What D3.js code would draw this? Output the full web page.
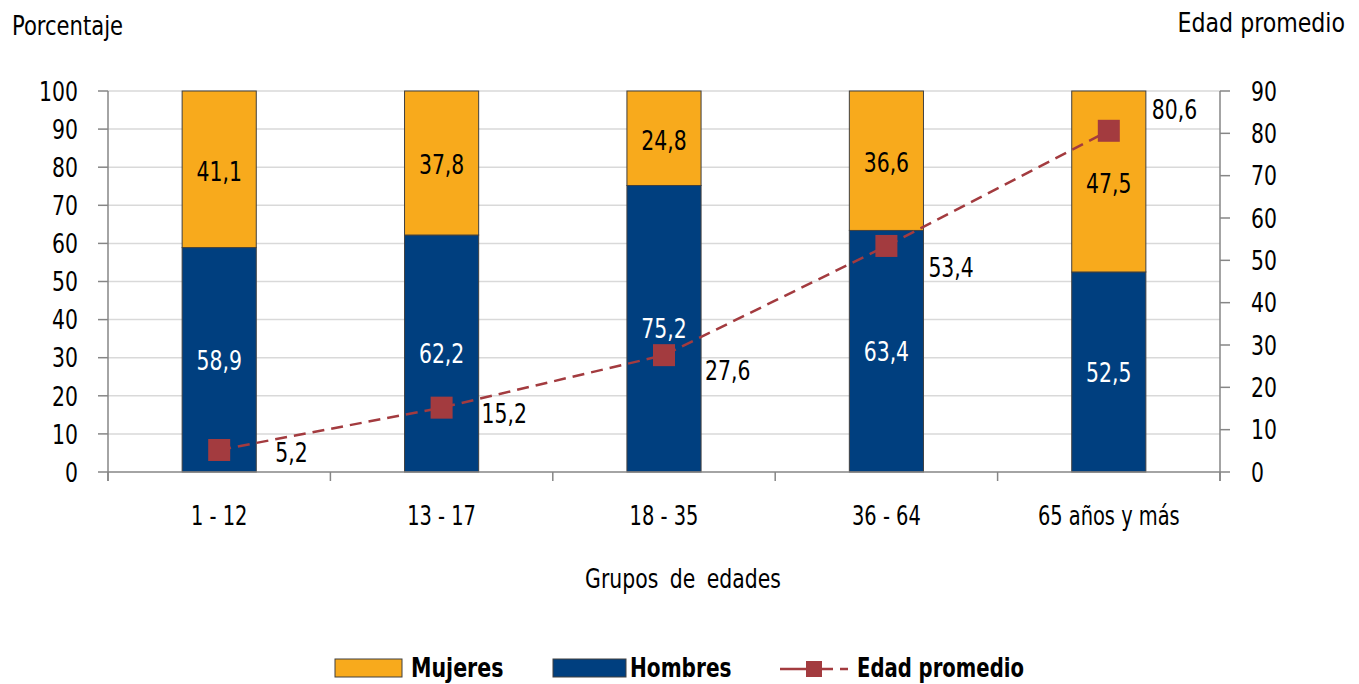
<!DOCTYPE html>
<html><head><meta charset="utf-8">
<script src="https://cdn.jsdelivr.net/npm/d3@7"></script>
<style>
body{margin:0;background:#fff;}
svg text{font-family:"DejaVu Sans Condensed","DejaVu Sans",sans-serif;font-stretch:condensed;fill:#000;}
</style></head>
<body><svg id="c" width="1359" height="684"></svg>
<script>
const categories = ["1 - 12","13 - 17","18 - 35","36 - 64","65 años y más"];
const hombres = [58.9, 62.2, 75.2, 63.4, 52.5];
const mujeres = [41.1, 37.8, 24.8, 36.6, 47.5];
const edadPromedio = [5.2, 15.2, 27.6, 53.4, 80.6];
const leftTicks = [0,10,20,30,40,50,60,70,80,90,100];
const rightTicks = [0,10,20,30,40,50,60,70,80,90];
const fmt = v => d3.format(".1f")(v).replace(".", ",");

// layout (not data)
const L = 108, R = 1220, T = 91, B = 472;
const labelOffsets = [[56,2],[40,6],[41,15],[42,21],[43,-22]];
const cMuj = "#F8AA1C", cHom = "#003F7F", cLine = "#A33B3F";
const SX = 0.84;

const svg = d3.select("#c");
function txt(parent, x, y, s, o = {}) {
  const g = parent.append("g").attr("transform", `translate(${x},${y}) scale(${o.sx || SX},1)`);
  const t = g.append("text").attr("x", 0).attr("y", 0)
    .attr("text-anchor", o.anchor || "start")
    .attr("font-size", o.size || 26)
    .attr("font-weight", o.weight || "normal")
    .text(s);
  if (o.dy) t.attr("dy", o.dy);
  if (o.fill) t.style("fill", o.fill);
  if (o.ws) t.attr("word-spacing", o.ws);
  return t;
}

const x = d3.scaleBand().domain(categories).range([L, R]).paddingInner(2/3).paddingOuter(1/3);
const yL = d3.scaleLinear().domain([0,100]).range([B, T]);
const yR = d3.scaleLinear().domain([0,90]).range([B, T]);

// gridlines
svg.append("g").selectAll("line").data(leftTicks.filter(d=>d>0)).join("line")
  .attr("x1", L).attr("x2", R).attr("y1", d=>yL(d)).attr("y2", d=>yL(d))
  .attr("stroke", "#D9D9D9").attr("stroke-width", 1.5);

// bars
const g = svg.append("g");
categories.forEach((c,i)=>{
  g.append("rect").attr("x", x(c)).attr("width", x.bandwidth())
    .attr("y", yL(hombres[i])).attr("height", yL(0)-yL(hombres[i]))
    .attr("fill", cHom).attr("stroke", "#404040").attr("stroke-width", 1);
  g.append("rect").attr("x", x(c)).attr("width", x.bandwidth())
    .attr("y", yL(100)).attr("height", yL(hombres[i])-yL(100))
    .attr("fill", cMuj).attr("stroke", "#404040").attr("stroke-width", 1);
  txt(g, x(c)+x.bandwidth()/2, yL(hombres[i]/2), fmt(hombres[i]), {anchor:"middle", dy:"0.36em", fill:"#fff", size:27});
  txt(g, x(c)+x.bandwidth()/2, yL(hombres[i]+mujeres[i]/2), fmt(mujeres[i]), {anchor:"middle", dy:"0.42em", size:27});
});

// axes
const axisColor = "#868686";
svg.append("line").attr("x1",L).attr("x2",L).attr("y1",T).attr("y2",B+9).attr("stroke",axisColor).attr("stroke-width",1.5);
svg.append("line").attr("x1",R).attr("x2",R).attr("y1",T).attr("y2",B+9).attr("stroke",axisColor).attr("stroke-width",1.5);
svg.append("line").attr("x1",L).attr("x2",R).attr("y1",B).attr("y2",B).attr("stroke",axisColor).attr("stroke-width",1.5);
svg.append("g").selectAll("line").data(leftTicks).join("line")
  .attr("x1",L-10).attr("x2",L).attr("y1",d=>yL(d)).attr("y2",d=>yL(d)).attr("stroke",axisColor).attr("stroke-width",1.5);
const lt = svg.append("g");
leftTicks.forEach(d => txt(lt, L-30, yL(d), d, {anchor:"end", dy:"0.36em", size:27}));
svg.append("g").selectAll("line").data(rightTicks).join("line")
  .attr("x1",R).attr("x2",R+10).attr("y1",d=>yR(d)).attr("y2",d=>yR(d)).attr("stroke",axisColor).attr("stroke-width",1.5);
const rt = svg.append("g");
rightTicks.forEach(d => txt(rt, R+31, yR(d), d, {anchor:"start", dy:"0.36em", size:27}));
// category boundary ticks
const step = x.step();
const bounds = d3.range(categories.length+1).map(i=>L+i*step);
svg.append("g").selectAll("line").data(bounds).join("line")
  .attr("x1",d=>d).attr("x2",d=>d).attr("y1",B).attr("y2",B+9).attr("stroke",axisColor).attr("stroke-width",1.5);
const ct = svg.append("g");
categories.forEach(d => txt(ct, x(d)+x.bandwidth()/2, 525, d, {anchor:"middle", size:27, sx:0.8}));

// titles
txt(svg, 12, 35, "Porcentaje", {size:27, sx:0.87});
txt(svg, 1345, 32, "Edad promedio", {anchor:"end", size:27, sx:0.91});
txt(svg, 683, 588, "Grupos de edades", {anchor:"middle", size:27, sx:0.84, ws:6});

// line
const line = d3.line().x((d,i)=>x(categories[i])+x.bandwidth()/2).y(d=>yR(d));
svg.append("path").datum(edadPromedio).attr("d",line).attr("fill","none")
  .attr("stroke",cLine).attr("stroke-width",2.5).attr("stroke-dasharray","12,7");
svg.append("g").selectAll("rect").data(edadPromedio).join("rect")
  .attr("x",(d,i)=>x(categories[i])+x.bandwidth()/2-11).attr("y",d=>yR(d)-11)
  .attr("width",22).attr("height",22).attr("fill",cLine);
const pl = svg.append("g");
edadPromedio.forEach((d,i) => txt(pl, x(categories[i])+x.bandwidth()/2+labelOffsets[i][0], yR(d)+labelOffsets[i][1], fmt(d), {dy:"0.36em", size:27}));

// legend
const lg = svg.append("g");
lg.append("rect").attr("x",335).attr("y",659).attr("width",67).attr("height",18).attr("fill",cMuj).attr("stroke","#404040");
txt(lg, 411, 677, "Mujeres", {size:26, weight:"bold", sx:0.88});
lg.append("rect").attr("x",553).attr("y",659).attr("width",73).attr("height",18).attr("fill",cHom).attr("stroke","#404040");
txt(lg, 630, 677, "Hombres", {size:26, weight:"bold", sx:0.86});
lg.append("line").attr("x1",780).attr("x2",848).attr("y1",669).attr("y2",669).attr("stroke",cLine).attr("stroke-width",2.5).attr("stroke-dasharray","53,7,8");
lg.append("rect").attr("x",806).attr("y",661).attr("width",16).attr("height",16).attr("fill",cLine);
txt(lg, 857, 677, "Edad promedio", {size:26, weight:"bold", sx:0.84});
</script></body></html>
